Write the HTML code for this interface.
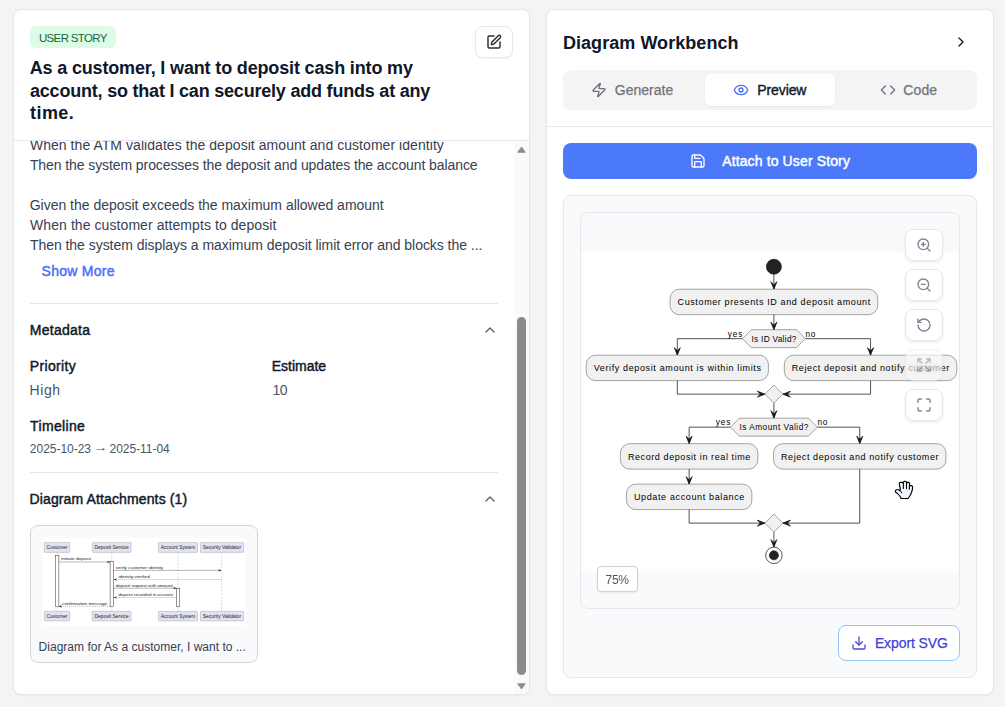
<!DOCTYPE html>
<html lang="en">
<head>
<meta charset="utf-8">
<title>User Story – Diagram Workbench</title>
<style>
*{box-sizing:border-box;margin:0;padding:0}
html,body{width:1005px;height:707px;overflow:hidden;background:#f3f4f6;font-family:"Liberation Sans",sans-serif;color:#111827}
.abs{position:absolute}
.card{position:absolute;background:#fff;border:1px solid #e5e7eb;border-radius:8px;box-shadow:0 1px 2px rgba(0,0,0,.04);overflow:hidden}
#left{left:13px;top:9px;width:517px;height:686px}
#right{left:546px;top:9px;width:448px;height:686px}
.t{position:absolute;white-space:nowrap;line-height:1}
.hr{position:absolute;height:1px;background:#e5e7eb}
.badge{position:absolute;left:16px;top:16px;width:86px;height:22px;border-radius:6px;background:#dcfce7;color:#166534;font-size:12px}
.title{font-weight:700;font-size:18px;color:#0f172a}
.body{font-size:14px;color:#374151}
.sb{font-weight:400;font-size:14px;color:#111827;-webkit-text-stroke:0.45px #111827}
.val{font-size:14px;color:#4b5563}
.btn{position:absolute;background:#fff;border:1px solid #e5e7eb;border-radius:8px;box-shadow:0 1px 2px rgba(0,0,0,.05)}
svg{position:absolute;overflow:visible}
.zb{position:absolute;left:324px;width:38px;height:32px;border:1px solid #e5e7eb;border-radius:8px;background:rgba(255,255,255,.92);box-shadow:0 1px 3px rgba(0,0,0,.1);backdrop-filter:blur(3px)}
.zb svg{left:10px;top:7px;fill:none;stroke:#7a8290;stroke-width:2;stroke-linecap:round;stroke-linejoin:round}
#dg text{stroke:none}
#badge{left:8.95px!important;top:7px!important;font-size:11.5px!important;letter-spacing:-0.651px}
#t1{left:15.64px!important;top:49px!important;font-size:18px!important;letter-spacing:-0.154px}
#t2{left:15.99px!important;top:72px!important;font-size:18px!important;letter-spacing:-0.208px}
#t3{left:16.00px!important;top:94px!important;font-size:18px!important;letter-spacing:0.447px}
#b1{left:15.89px!important;top:-3px!important;font-size:14px!important;letter-spacing:0.054px}
#b2{left:15.91px!important;top:17px!important;font-size:14px!important;letter-spacing:-0.089px}
#b3{left:15.74px!important;top:57px!important;font-size:14px!important;letter-spacing:-0.017px}
#b4{left:16.04px!important;top:77px!important;font-size:14px!important;letter-spacing:0.077px}
#b5{left:15.91px!important;top:97px!important;font-size:14px!important;letter-spacing:-0.037px}
#showmore{left:27.55px!important;top:123px!important;font-size:14px!important;letter-spacing:0.260px}
#metadata{left:15.77px!important;top:182px!important;font-size:14px!important;letter-spacing:0.268px}
#priority{left:15.77px!important;top:218px!important;font-size:14px!important;letter-spacing:0.341px}
#high{left:15.48px!important;top:242px!important;font-size:14px!important;letter-spacing:0.626px}
#estimate{left:257.82px!important;top:218px!important;font-size:14px!important;letter-spacing:-0.026px}
#ten{left:258.41px!important;top:242px!important;font-size:14px!important;letter-spacing:-0.558px}
#timeline{left:16.12px!important;top:278px!important;font-size:14px!important;letter-spacing:0.329px}
#date{left:15.86px!important;top:302px!important;font-size:12px!important;letter-spacing:-0.029px}
#attachments{left:15.52px!important;top:351px!important;font-size:14px!important;letter-spacing:0.127px}
#caption{left:7.62px!important;top:115px!important;font-size:12px!important;letter-spacing:0.011px}
#workbench{left:15.90px!important;top:24px!important;font-size:18px!important;letter-spacing:0.059px}
#generate{left:51.75px!important;top:13px!important;font-size:14px!important;letter-spacing:0.025px}
#preview{left:194.31px!important;top:13px!important;font-size:14px!important;letter-spacing:-0.107px}
#code{left:340.32px!important;top:13px!important;font-size:14px!important;letter-spacing:0.097px}
#attachtx{left:159.20px!important;top:11px!important;font-size:14px!important;letter-spacing:0.128px}
#pct{left:7.62px!important;top:7px!important;font-size:12px!important;letter-spacing:-0.388px}
#exporttx{left:35.88px!important;top:10px!important;font-size:14px!important;letter-spacing:-0.100px}
</style>
</head>
<body>
<div class="card" id="left">
  <div class="badge"><span id="badge" class="t" style="left:9px;top:5px">USER STORY</span></div>
  <div class="btn" style="left:461px;top:16px;width:38px;height:32px">
    <svg style="left:10px;top:7px" width="16" height="16" viewBox="0 0 24 24" fill="none" stroke="#2a2e35" stroke-width="2.2" stroke-linecap="round" stroke-linejoin="round"><path d="M12 3H5a2 2 0 0 0-2 2v14a2 2 0 0 0 2 2h14a2 2 0 0 0 2-2v-7"/><path d="M18.375 2.625a1 1 0 0 1 3 3l-9.013 9.014a2 2 0 0 1-.853.505l-2.873.84a.5.5 0 0 1-.62-.62l.84-2.873a2 2 0 0 1 .506-.852z"/></svg>
  </div>
  <div id="t1" class="t title" style="left:16px;top:49px">As a customer, I want to deposit cash into my</div>
  <div id="t2" class="t title" style="left:16px;top:72px">account, so that I can securely add funds at any</div>
  <div id="t3" class="t title" style="left:16px;top:94px">time.</div>
  <div class="hr" style="left:0;top:130px;width:515px"></div>
  <div class="abs" id="scroll" style="left:0;top:131px;width:515px;height:553px;overflow:hidden">
    <div id="b1" class="t body" style="left:16px;top:-4px">When the ATM validates the deposit amount and customer identity</div>
    <div id="b2" class="t body" style="left:16px;top:17px">Then the system processes the deposit and updates the account balance</div>
    <div id="b3" class="t body" style="left:16px;top:57px">Given the deposit exceeds the maximum allowed amount</div>
    <div id="b4" class="t body" style="left:16px;top:77px">When the customer attempts to deposit</div>
    <div id="b5" class="t body" style="left:16px;top:97px">Then the system displays a maximum deposit limit error and blocks the ...</div>
    <div id="showmore" class="t" style="left:28px;top:123px;font-size:14px;font-weight:400;color:#4f6ef7;-webkit-text-stroke:0.45px #4f6ef7">Show More</div>
    <div class="hr" style="left:16px;top:162px;width:468px"></div>
    <div id="metadata" class="t sb" style="left:16px;top:182px">Metadata</div>
    <svg style="left:468px;top:181px" width="16" height="16" viewBox="0 0 24 24" fill="none" stroke="#59606b" stroke-width="2" stroke-linecap="round" stroke-linejoin="round"><path d="m18 15-6-6-6 6"/></svg>
    <div id="priority" class="t sb" style="left:16px;top:218px">Priority</div>
    <div id="high" class="t val" style="left:16px;top:242px">High</div>
    <div id="estimate" class="t sb" style="left:258px;top:218px">Estimate</div>
    <div id="ten" class="t val" style="left:258px;top:242px">10</div>
    <div id="timeline" class="t sb" style="left:16px;top:278px">Timeline</div>
    <div id="date" class="t val" style="left:16px;top:301px;font-size:12px">2025-10-23 <span style="position:relative;top:-1.6px;display:inline-block;transform:scaleX(1.15);transform-origin:left center">→</span> 2025-11-04</div>
    <div class="hr" style="left:16px;top:331px;width:468px"></div>
    <div id="attachments" class="t sb" style="left:16px;top:351px">Diagram Attachments (1)</div>
    <svg style="left:468px;top:350px" width="16" height="16" viewBox="0 0 24 24" fill="none" stroke="#59606b" stroke-width="2" stroke-linecap="round" stroke-linejoin="round"><path d="m18 15-6-6-6 6"/></svg>
    <div class="abs" id="thumb" style="left:16px;top:384px;width:228px;height:138px;border:1px solid #d1d5db;border-radius:8px;background:#f9fafb">
      <div class="abs" id="thumbimg" style="left:12px;top:12px;width:202px;height:88px;background:#fff;overflow:hidden"><svg id="th" style="left:0;top:0" width="202" height="88" viewBox="0 0 202 88" font-family="'Liberation Sans',sans-serif" fill="#222">
<line x1="14.20" y1="14.60" x2="14.20" y2="74.00" stroke="#181818" stroke-opacity=".6" stroke-width="0.3" stroke-dasharray="1.7 1.7"/>
<line x1="68.80" y1="14.60" x2="68.80" y2="74.00" stroke="#181818" stroke-opacity=".6" stroke-width="0.3" stroke-dasharray="1.7 1.7"/>
<line x1="135.10" y1="14.60" x2="135.10" y2="74.00" stroke="#181818" stroke-opacity=".6" stroke-width="0.3" stroke-dasharray="1.7 1.7"/>
<line x1="178.60" y1="14.60" x2="178.60" y2="74.00" stroke="#181818" stroke-opacity=".6" stroke-width="0.3" stroke-dasharray="1.7 1.7"/>
<rect x="12.50" y="17.20" width="3.4" height="51.30" fill="#fff" stroke="#181818" stroke-width="0.45"/>
<rect x="67.10" y="23.30" width="3.4" height="45.20" fill="#fff" stroke="#181818" stroke-width="0.45"/>
<rect x="133.40" y="50.20" width="3.4" height="18.30" fill="#fff" stroke="#181818" stroke-width="0.45"/>
<line x1="15.90" y1="24.00" x2="67.10" y2="24.00" stroke="#181818" stroke-opacity=".8" stroke-width="0.4"/>
<polygon points="63.70,22.65 67.10,24.00 63.70,25.35 65.10,24.00" fill="#181818"/>
<text x="18.10" y="22.40" font-size="4.4" textLength="29.90" lengthAdjust="spacingAndGlyphs">initiate deposit</text>
<line x1="70.50" y1="32.40" x2="178.40" y2="32.40" stroke="#181818" stroke-opacity=".8" stroke-width="0.4"/>
<polygon points="175.00,31.05 178.40,32.40 175.00,33.75 176.40,32.40" fill="#181818"/>
<text x="72.70" y="30.80" font-size="4.4" textLength="47.50" lengthAdjust="spacingAndGlyphs">verify customer identity</text>
<line x1="178.40" y1="41.50" x2="70.70" y2="41.50" stroke="#181818" stroke-opacity=".8" stroke-width="0.4" stroke-dasharray="1 1"/>
<polygon points="74.10,40.15 70.70,41.50 74.10,42.85 72.70,41.50" fill="#181818"/>
<text x="75.40" y="39.90" font-size="4.4" textLength="31.40" lengthAdjust="spacingAndGlyphs">identity verified</text>
<line x1="70.50" y1="50.20" x2="133.40" y2="50.20" stroke="#181818" stroke-opacity=".8" stroke-width="0.4"/>
<polygon points="130.00,48.85 133.40,50.20 130.00,51.55 131.40,50.20" fill="#181818"/>
<text x="72.70" y="48.60" font-size="4.4" textLength="57.00" lengthAdjust="spacingAndGlyphs">deposit request with amount</text>
<line x1="133.40" y1="59.50" x2="70.70" y2="59.50" stroke="#181818" stroke-opacity=".8" stroke-width="0.4" stroke-dasharray="1 1"/>
<polygon points="74.10,58.15 70.70,59.50 74.10,60.85 72.70,59.50" fill="#181818"/>
<text x="75.40" y="57.90" font-size="4.4" textLength="54.50" lengthAdjust="spacingAndGlyphs">deposit recorded in account</text>
<line x1="67.10" y1="68.30" x2="15.90" y2="68.30" stroke="#181818" stroke-opacity=".8" stroke-width="0.4" stroke-dasharray="1 1"/>
<polygon points="19.30,66.95 15.90,68.30 19.30,69.65 17.90,68.30" fill="#181818"/>
<text x="19.10" y="66.70" font-size="4.4" textLength="45.00" lengthAdjust="spacingAndGlyphs">confirmation message</text>
<rect x="1.30" y="4.40" width="25.50" height="10.00" rx="0.9" fill="#E2E2F0" stroke="#181818" stroke-opacity=".55" stroke-width="0.3"/>
<text x="14.05" y="11.00" font-size="4.5" text-anchor="middle" textLength="20.90" lengthAdjust="spacingAndGlyphs">Customer</text>
<rect x="49.20" y="4.40" width="38.90" height="10.00" rx="0.9" fill="#E2E2F0" stroke="#181818" stroke-opacity=".55" stroke-width="0.3"/>
<text x="68.65" y="11.00" font-size="4.5" text-anchor="middle" textLength="34.30" lengthAdjust="spacingAndGlyphs">Deposit Service</text>
<rect x="115.40" y="4.40" width="39.10" height="10.00" rx="0.9" fill="#E2E2F0" stroke="#181818" stroke-opacity=".55" stroke-width="0.3"/>
<text x="134.95" y="11.00" font-size="4.5" text-anchor="middle" textLength="34.50" lengthAdjust="spacingAndGlyphs">Account System</text>
<rect x="157.40" y="4.40" width="43.20" height="10.00" rx="0.9" fill="#E2E2F0" stroke="#181818" stroke-opacity=".55" stroke-width="0.3"/>
<text x="179.00" y="11.00" font-size="4.5" text-anchor="middle" textLength="38.60" lengthAdjust="spacingAndGlyphs">Security Validator</text>
<rect x="1.30" y="73.30" width="25.50" height="9.70" rx="0.9" fill="#E2E2F0" stroke="#181818" stroke-opacity=".55" stroke-width="0.3"/>
<text x="14.05" y="79.90" font-size="4.5" text-anchor="middle" textLength="20.90" lengthAdjust="spacingAndGlyphs">Customer</text>
<rect x="49.20" y="73.30" width="38.90" height="9.70" rx="0.9" fill="#E2E2F0" stroke="#181818" stroke-opacity=".55" stroke-width="0.3"/>
<text x="68.65" y="79.90" font-size="4.5" text-anchor="middle" textLength="34.30" lengthAdjust="spacingAndGlyphs">Deposit Service</text>
<rect x="115.40" y="73.30" width="39.10" height="9.70" rx="0.9" fill="#E2E2F0" stroke="#181818" stroke-opacity=".55" stroke-width="0.3"/>
<text x="134.95" y="79.90" font-size="4.5" text-anchor="middle" textLength="34.50" lengthAdjust="spacingAndGlyphs">Account System</text>
<rect x="157.40" y="73.30" width="43.20" height="9.70" rx="0.9" fill="#E2E2F0" stroke="#181818" stroke-opacity=".55" stroke-width="0.3"/>
<text x="179.00" y="79.90" font-size="4.5" text-anchor="middle" textLength="38.60" lengthAdjust="spacingAndGlyphs">Security Validator</text>
</svg></div>
      <div id="caption" class="t" style="left:8px;top:116px;font-size:12px;color:#374151">Diagram for As a customer, I want to ...</div>
    </div>
  </div>
  <div class="abs" id="sbar" style="left:500px;top:131px;width:15px;height:553px;background:#fafafa">
    <svg style="left:3px;top:5px" width="9" height="7" viewBox="0 0 9 7"><path d="M4.5 0.6 L8.6 6 Q8.8 6.6 8 6.7 L1 6.7 Q0.2 6.6 0.4 6 Z" fill="#8b8b8b"/></svg>
    <div class="abs" style="left:3px;top:176px;width:9px;height:358px;border-radius:4.5px;background:#8b8b8b"></div>
    <svg style="left:3px;top:542px" width="9" height="7" viewBox="0 0 9 7"><path d="M4.5 6.4 L8.6 1 Q8.8 0.4 8 0.3 L1 0.3 Q0.2 0.4 0.4 1 Z" fill="#8b8b8b"/></svg>
  </div>
</div>

<div class="card" id="right">
  <div id="workbench" class="t title" style="left:16px;top:24px">Diagram Workbench</div>
  <svg style="left:406px;top:24px" width="16" height="16" viewBox="0 0 24 24" fill="none" stroke="#111827" stroke-width="2" stroke-linecap="round" stroke-linejoin="round"><path d="m9 18 6-6-6-6"/></svg>
  <div class="abs" id="tabs" style="left:16px;top:60px;width:414px;height:40px;border-radius:8px;background:#f4f4f5">
    <div class="abs" style="left:142px;top:4px;width:130px;height:32px;border-radius:6px;background:#fff;box-shadow:0 1px 2px rgba(0,0,0,.05)"></div>
    <svg style="left:28px;top:12px" width="16" height="16" viewBox="0 0 24 24" fill="none" stroke="#6b7280" stroke-width="2" stroke-linecap="round" stroke-linejoin="round"><path d="M4 14a1 1 0 0 1-.78-1.63l9.900-10.200a.5.500 0 0 1 .86.460l-1.920 6.020A1 1 0 0 0 13 10h7a1 1 0 0 1 .78 1.630l-9.900 10.200a.5.500 0 0 1-.86-.46l1.920-6.020A1 1 0 0 0 11 14z"/></svg>
    <div id="generate" class="t" style="left:52px;top:13px;font-size:14px;font-weight:400;color:#71717a;-webkit-text-stroke:0.25px #71717a">Generate</div>
    <svg style="left:170px;top:12px" width="16" height="16" viewBox="0 0 24 24" fill="none" stroke="#4f6ef7" stroke-width="2" stroke-linecap="round" stroke-linejoin="round"><path d="M2.062 12.348a1 1 0 0 1 0-.696 10.750 10.750 0 0 1 19.876 0 1 1 0 0 1 0 .696 10.750 10.750 0 0 1-19.876 0"/><circle cx="12" cy="12" r="3"/></svg>
    <div id="preview" class="t" style="left:194px;top:13px;font-size:14px;font-weight:400;color:#111827;-webkit-text-stroke:0.4px #111827">Preview</div>
    <svg style="left:317px;top:12px" width="16" height="16" viewBox="0 0 24 24" fill="none" stroke="#6b7280" stroke-width="2" stroke-linecap="round" stroke-linejoin="round"><path d="m16 18 6-6-6-6"/><path d="m8 6-6 6 6 6"/></svg>
    <div id="code" class="t" style="left:341px;top:13px;font-size:14px;font-weight:400;color:#71717a;-webkit-text-stroke:0.25px #71717a">Code</div>
  </div>
  <div class="hr" style="left:0;top:116px;width:446px"></div>
  <div class="abs" id="attach" style="left:16px;top:133px;width:414px;height:36px;border-radius:8px;background:#4c79fa">
    <svg style="left:127px;top:10px" width="16" height="16" viewBox="0 0 24 24" fill="none" stroke="#fff" stroke-width="2" stroke-linecap="round" stroke-linejoin="round"><path d="M15.200 3a2 2 0 0 1 1.400.600l3.800 3.800a2 2 0 0 1 .6 1.400V19a2 2 0 0 1-2 2H5a2 2 0 0 1-2-2V5a2 2 0 0 1 2-2z"/><path d="M17 21v-7a1 1 0 0 0-1-1H8a1 1 0 0 0-1 1v7"/><path d="M7 3v4a1 1 0 0 0 1 1h7"/></svg>
    <div id="attachtx" class="t" style="left:159px;top:11px;font-size:14px;font-weight:400;color:#fff;-webkit-text-stroke:0.45px #fff">Attach to User Story</div>
  </div>
  <div class="abs" id="panel" style="left:16px;top:185px;width:414px;height:483px;border:1px solid #e5e7eb;border-radius:8px;background:#f9fafb">
    <div class="abs" id="canvas" style="left:16px;top:16px;width:380px;height:397px;border:1px solid #e5e7eb;border-radius:8px;background:#f9fafb;overflow:hidden">
      <div class="abs" id="white" style="left:0;top:39px;width:378px;height:319px;background:#fff"></div>
      <svg id="dg" style="left:0;top:0" width="378" height="395" viewBox="0 0 378 395" font-family="'Liberation Sans',sans-serif" fill="#000" stroke="none"><g transform="translate(-2.30,38.70) scale(.75)">
<ellipse cx="260.27" cy="20" rx="10" ry="10" fill="#222222" stroke="#222222" stroke-width="1"/>
<polyline points="260.27,30.00 260.27,50.00" fill="none" stroke="#181818" stroke-width="1"/>
<polygon points="256.27,40.00 260.27,50.00 264.27,40.00 260.27,44.00" fill="#181818" stroke="#181818" stroke-width="1"/>
<rect x="121.77" y="50.00" width="277.00" height="33.9688" rx="12.5" ry="12.5" fill="#F1F1F1" stroke="#181818" stroke-width="0.5"/>
<text x="131.77" y="71.14" font-size="12" textLength="257.00" lengthAdjust="spacing">Customer presents ID and deposit amount</text>
<polyline points="260.27,83.97 260.27,103.97" fill="none" stroke="#181818" stroke-width="1"/>
<polygon points="256.27,93.97 260.27,103.97 264.27,93.97 260.27,97.97" fill="#181818" stroke="#181818" stroke-width="1"/>
<polygon points="230.27,103.97 290.27,103.97 302.27,115.97 290.27,127.97 230.27,127.97 218.27,115.97" fill="#F1F1F1" stroke="#181818" stroke-width="0.5"/>
<text x="230.27" y="119.77" font-size="11" textLength="60.00" lengthAdjust="spacing">Is ID Valid?</text>
<text x="198.87" y="113.27" font-size="11" textLength="19.4" lengthAdjust="spacing">yes</text>
<text x="302.27" y="113.27" font-size="11" textLength="13.4" lengthAdjust="spacing">no</text>
<polyline points="218.27,115.97 131.50,115.97 131.50,137.97" fill="none" stroke="#181818" stroke-width="1"/>
<polygon points="127.50,127.97 131.50,137.97 135.50,127.97 131.50,131.97" fill="#181818" stroke="#181818" stroke-width="1"/>
<polyline points="302.27,115.97 389.13,115.97 389.13,137.97" fill="none" stroke="#181818" stroke-width="1"/>
<polygon points="385.13,127.97 389.13,137.97 393.13,127.97 389.13,131.97" fill="#181818" stroke="#181818" stroke-width="1"/>
<rect x="10.00" y="137.97" width="243.00" height="33.9688" rx="12.5" ry="12.5" fill="#F1F1F1" stroke="#181818" stroke-width="0.5"/>
<text x="20.00" y="159.11" font-size="12" textLength="223.00" lengthAdjust="spacing">Verify deposit amount is within limits</text>
<rect x="274.13" y="137.97" width="230.00" height="33.9688" rx="12.5" ry="12.5" fill="#F1F1F1" stroke="#181818" stroke-width="0.5"/>
<text x="284.13" y="159.11" font-size="12" textLength="210.00" lengthAdjust="spacing">Reject deposit and notify customer</text>
<polyline points="131.50,171.94 131.50,189.94 248.27,189.94" fill="none" stroke="#181818" stroke-width="1"/>
<polygon points="238.27,185.94 248.27,189.94 238.27,193.94 242.27,189.94" fill="#181818" stroke="#181818" stroke-width="1"/>
<polyline points="389.13,171.94 389.13,189.94 272.27,189.94" fill="none" stroke="#181818" stroke-width="1"/>
<polygon points="282.27,185.94 272.27,189.94 282.27,193.94 278.27,189.94" fill="#181818" stroke="#181818" stroke-width="1"/>
<polygon points="260.27,177.94 272.27,189.94 260.27,201.94 248.27,189.94" fill="#F1F1F1" stroke="#181818" stroke-width="0.5"/>
<polyline points="260.27,201.94 260.27,221.94" fill="none" stroke="#181818" stroke-width="1"/>
<polygon points="256.27,211.94 260.27,221.94 264.27,211.94 260.27,215.94" fill="#181818" stroke="#181818" stroke-width="1"/>
<polygon points="214.27,221.94 306.27,221.94 318.27,233.94 306.27,245.94 214.27,245.94 202.27,233.94" fill="#F1F1F1" stroke="#181818" stroke-width="0.5"/>
<text x="214.27" y="237.74" font-size="11" textLength="92.00" lengthAdjust="spacing">Is Amount Valid?</text>
<text x="182.87" y="231.24" font-size="11" textLength="19.4" lengthAdjust="spacing">yes</text>
<text x="318.27" y="231.24" font-size="11" textLength="13.4" lengthAdjust="spacing">no</text>
<polyline points="202.27,233.94 147.25,233.94 147.25,255.94" fill="none" stroke="#181818" stroke-width="1"/>
<polygon points="143.25,245.94 147.25,255.94 151.25,245.94 147.25,249.94" fill="#181818" stroke="#181818" stroke-width="1"/>
<polyline points="318.27,233.94 374.73,233.94 374.73,255.94" fill="none" stroke="#181818" stroke-width="1"/>
<polygon points="370.73,245.94 374.73,255.94 378.73,245.94 374.73,249.94" fill="#181818" stroke="#181818" stroke-width="1"/>
<rect x="55.60" y="255.94" width="183.30" height="33.9688" rx="12.5" ry="12.5" fill="#F1F1F1" stroke="#181818" stroke-width="0.5"/>
<text x="65.60" y="278.08" font-size="12" textLength="163.30" lengthAdjust="spacing">Record deposit in real time</text>
<rect x="259.73" y="255.94" width="230.00" height="33.9688" rx="12.5" ry="12.5" fill="#F1F1F1" stroke="#181818" stroke-width="0.5"/>
<text x="269.73" y="278.08" font-size="12" textLength="210.00" lengthAdjust="spacing">Reject deposit and notify customer</text>
<polyline points="147.25,289.91 147.25,309.91" fill="none" stroke="#181818" stroke-width="1"/>
<polygon points="143.25,299.91 147.25,309.91 151.25,299.91 147.25,303.91" fill="#181818" stroke="#181818" stroke-width="1"/>
<rect x="63.60" y="309.91" width="167.30" height="33.9688" rx="12.5" ry="12.5" fill="#F1F1F1" stroke="#181818" stroke-width="0.5"/>
<text x="73.60" y="331.05" font-size="12" textLength="147.30" lengthAdjust="spacing">Update account balance</text>
<polyline points="147.25,343.88 147.25,361.88 248.27,361.88" fill="none" stroke="#181818" stroke-width="1"/>
<polygon points="238.27,357.88 248.27,361.88 238.27,365.88 242.27,361.88" fill="#181818" stroke="#181818" stroke-width="1"/>
<polyline points="374.73,289.91 374.73,361.88 272.27,361.88" fill="none" stroke="#181818" stroke-width="1"/>
<polygon points="282.27,357.88 272.27,361.88 282.27,365.88 278.27,361.88" fill="#181818" stroke="#181818" stroke-width="1"/>
<polygon points="260.27,349.88 272.27,361.88 260.27,373.88 248.27,361.88" fill="#F1F1F1" stroke="#181818" stroke-width="0.5"/>
<polyline points="260.27,373.88 260.27,393.88" fill="none" stroke="#181818" stroke-width="1"/>
<polygon points="256.27,383.88 260.27,393.88 264.27,383.88 260.27,387.88" fill="#181818" stroke="#181818" stroke-width="1"/>
<ellipse cx="260.27" cy="404.88" rx="11" ry="11" fill="none" stroke="#222222" stroke-width="1"/>
<ellipse cx="260.27" cy="404.88" rx="6" ry="6" fill="#222222" stroke="#222222" stroke-width="1"/>
</g></svg>
      <div class="zb" style="top:16px"><svg width="16" height="16" viewBox="0 0 24 24"><circle cx="11" cy="11" r="8"/><path d="m21 21-4.350-4.350"/><path d="M11 8v6"/><path d="M8 11h6"/></svg></div>
      <div class="zb" style="top:56px"><svg width="16" height="16" viewBox="0 0 24 24"><circle cx="11" cy="11" r="8"/><path d="m21 21-4.350-4.350"/><path d="M8 11h6"/></svg></div>
      <div class="zb" style="top:96px"><svg width="16" height="16" viewBox="0 0 24 24"><path d="M3 12a9 9 0 1 0 9-9 9.750 9.750 0 0 0-6.740 2.740L3 8"/><path d="M3 3v5h5"/></svg></div>
      <div class="zb" style="top:136px;opacity:.5"><svg width="16" height="16" viewBox="0 0 24 24"><path d="m15 15 6 6"/><path d="m15 9 6-6"/><path d="M21 16v5h-5"/><path d="M21 8V3h-5"/><path d="M3 16v5h5"/><path d="m3 21 6-6"/><path d="M3 8V3h5"/><path d="M9 9 3 3"/></svg></div>
      <div class="zb" style="top:176px"><svg width="16" height="16" viewBox="0 0 24 24"><path d="M8 3H5a2 2 0 0 0-2 2v3"/><path d="M21 8V5a2 2 0 0 0-2-2h-3"/><path d="M3 16v3a2 2 0 0 0 2 2h3"/><path d="M16 21h3a2 2 0 0 0 2-2v-3"/></svg></div>
      <svg id="hand" style="left:0;top:0" width="378" height="395" viewBox="581 213 378 395"><path d="M895.3,491 L896.3,489.7 L898.6,489.7 L900.2,491.2 L900.2,488 L899.4,485 L899.4,483.3 Q899.4,482.3 900.4,482.3 L901.8,482.3 Q902.9,482.3 903.2,483.2 L903.3,482.5 Q903.5,481.3 904.5,481.3 L905.4,481.3 Q906.5,481.3 906.5,482.5 L906.6,483.1 Q907,482.4 907.8,482.4 L908.5,482.4 Q909.5,482.4 909.5,483.5 L909.5,485.7 Q909.9,485.5 910.6,485.6 L911.5,485.6 Q912.6,485.8 912.6,487 L912.4,489.5 L911.3,493 L909.8,496 L908,498.5 L901,498.5 L900.5,497 L898,494 L895.5,492 Z" fill="#f0f7ff" stroke="#000" stroke-width="1.15" stroke-linejoin="round"/><path d="M903.3,483.2 L903.4,488.4 M906.5,483 L906.5,488.6 M909.5,485.6 L909.3,489.2 M901.2,492 L901.6,492.6" fill="none" stroke="#000" stroke-width="1.1" stroke-linecap="round"/></svg>
      <div class="abs" style="left:16px;top:353px;width:41px;height:26px;border:1px solid #cdd1da;border-radius:4px;background:#fff;box-shadow:0 1px 2px rgba(0,0,0,.08)"><span id="pct" class="t" style="left:8px;top:5px;font-size:12px;color:#4b5563">75%</span></div>
    </div>
    <div class="abs" id="export" style="left:274px;top:429px;width:122px;height:36px;border:1px solid #93c5fd;border-radius:8px;background:#fff">
      <svg style="left:12px;top:9px" width="16" height="16" viewBox="0 0 24 24" fill="none" stroke="#4a48e0" stroke-width="2" stroke-linecap="round" stroke-linejoin="round"><path d="M12 15V3"/><path d="M21 15v4a2 2 0 0 1-2 2H5a2 2 0 0 1-2-2v-4"/><path d="m7 10 5 5 5-5"/></svg>
      <div id="exporttx" class="t" style="left:37px;top:10px;font-size:14px;font-weight:400;color:#403fd6;-webkit-text-stroke:0.25px #403fd6">Export SVG</div>
    </div>
  </div>
</div>
</body>
</html>
